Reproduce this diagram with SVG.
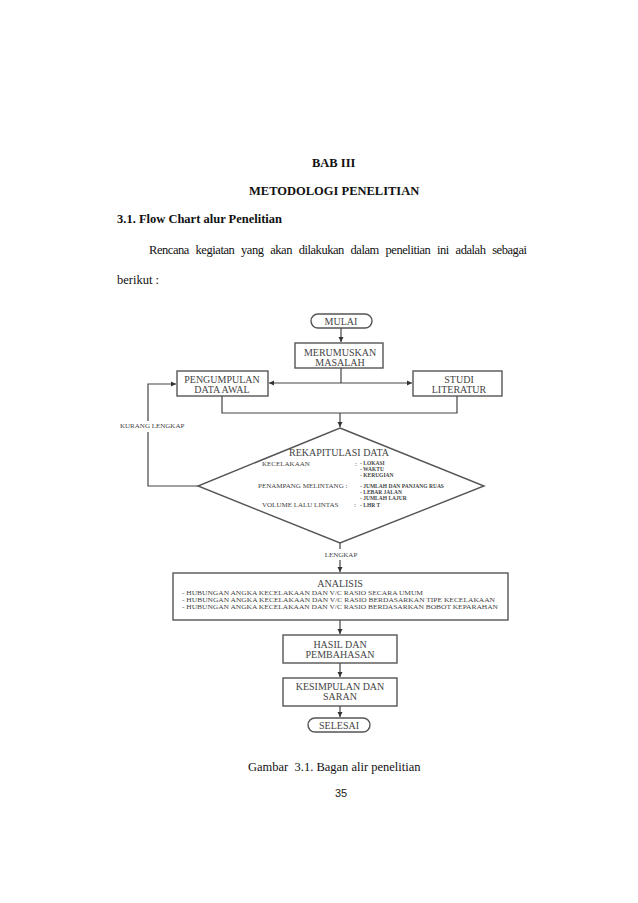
<svg xmlns="http://www.w3.org/2000/svg" width="638" height="903" viewBox="0 0 638 903">
<defs>
<style>
.pg{font-family:"Liberation Serif","Times New Roman",serif;fill:#111;font-size:12.5px}
.b{font-weight:bold}
.nd{fill:#fff;stroke:#555;stroke-width:1.4}
.t{font-family:"Liberation Serif","Times New Roman",serif;fill:#444;font-size:10px;text-anchor:middle}
.s{font-family:"Liberation Serif","Times New Roman",serif;fill:#444;font-size:7px}
.xs{font-family:"Liberation Serif","Times New Roman",serif;fill:#444;font-size:5.5px;font-weight:bold}
.c{fill:none;stroke:#444;stroke-width:1.2}
</style>
<marker id="ar" markerWidth="6" markerHeight="6" refX="5" refY="3" orient="auto" markerUnits="userSpaceOnUse">
<path d="M0,0.5 L5,3 L0,5.5 Z" fill="#333"/>
</marker>
</defs>
<rect width="638" height="903" fill="#fff"/>

<g id="page-text">
<text class="pg b" x="312" y="167">BAB III</text>
<text class="pg b" x="249" y="195">METODOLOGI PENELITIAN</text>
<text class="pg b" x="117" y="223">3.1. Flow Chart alur Penelitian</text>
<text class="pg" x="149" y="254" textLength="378" lengthAdjust="spacing" word-spacing="4">Rencana kegiatan yang akan dilakukan dalam penelitian ini adalah sebagai</text>
<text class="pg" x="117" y="284">berikut :</text>
<text class="pg" x="248" y="771" xml:space="preserve">Gambar  3.1. Bagan alir penelitian</text>
<text x="341" y="797" font-family="Liberation Sans, Arial, sans-serif" font-size="11" fill="#222" text-anchor="middle">35</text>
</g>

<g id="connectors">
<line class="c" x1="341" y1="328" x2="341" y2="342" marker-end="url(#ar)"/>
<line class="c" x1="341" y1="368" x2="341" y2="383"/>
<line class="c" x1="341" y1="383" x2="269" y2="383" marker-end="url(#ar)"/>
<line class="c" x1="341" y1="383" x2="412" y2="383" marker-end="url(#ar)"/>
<polyline class="c" points="222,396 222,413 457,413 457,396"/>
<line class="c" x1="340" y1="413" x2="340" y2="427" marker-end="url(#ar)"/>
<polyline class="c" points="198,486 148,486 148,432"/>
<polyline class="c" points="148,421 148,384 176,384" marker-end="url(#ar)"/>
<text class="s" x="120" y="428" font-size="7">KURANG LENGKAP</text>
<line class="c" x1="340" y1="543" x2="340" y2="549"/>
<text class="s" x="341" y="557" text-anchor="middle" font-size="6.5">LENGKAP</text>
<line class="c" x1="340" y1="560" x2="340" y2="572" marker-end="url(#ar)"/>
<line class="c" x1="340" y1="620" x2="340" y2="634" marker-end="url(#ar)"/>
<line class="c" x1="340" y1="663" x2="340" y2="677" marker-end="url(#ar)"/>
<line class="c" x1="340" y1="706" x2="340" y2="717" marker-end="url(#ar)"/>
</g>

<g id="mulai">
<rect class="nd" x="311" y="314" width="61" height="14" rx="7"/>
<text class="t" x="341" y="325">MULAI</text>
</g>
<g id="merumuskan">
<rect class="nd" x="295" y="343" width="88" height="25"/>
<text class="t" x="340" y="356">MERUMUSKAN</text>
<text class="t" x="340" y="366">MASALAH</text>
</g>
<g id="pengumpulan">
<rect class="nd" x="177" y="371" width="91" height="25"/>
<text class="t" x="222" y="383">PENGUMPULAN</text>
<text class="t" x="222" y="393">DATA AWAL</text>
</g>
<g id="studi">
<rect class="nd" x="413" y="371" width="89" height="25"/>
<text class="t" x="459" y="383">STUDI</text>
<text class="t" x="459" y="393">LITERATUR</text>
</g>
<g id="rekapitulasi">
<polygon class="nd" points="340,428 484,486 340,543 198,486"/>
<text class="t" x="339" y="456" font-size="9.5">REKAPITULASI DATA</text>
<text class="s" x="262" y="466">KECELAKAAN</text>
<text class="s" x="355" y="466">:</text>
<text class="xs" x="360" y="465">- LOKASI</text>
<text class="xs" x="360" y="471">- WAKTU</text>
<text class="xs" x="360" y="477">- KERUGIAN</text>
<text class="s" x="258" y="488">PENAMPANG MELINTANG :</text>
<text class="xs" x="360" y="488">- JUMLAH DAN PANJANG RUAS</text>
<text class="xs" x="360" y="494">- LEBAR JALAN</text>
<text class="xs" x="360" y="500">- JUMLAH LAJUR</text>
<text class="s" x="262" y="507">VOLUME LALU LINTAS</text>
<text class="s" x="354" y="507">:</text>
<text class="xs" x="360" y="507">- LHR T</text>
</g>
<g id="analisis">
<rect class="nd" x="173" y="573" width="335" height="47"/>
<text class="t" x="340" y="587">ANALISIS</text>
<text class="s" x="182" y="595" font-size="6.5" textLength="241" lengthAdjust="spacingAndGlyphs">- HUBUNGAN ANGKA KECELAKAAN DAN V/C RASIO SECARA UMUM</text>
<text class="s" x="182" y="602" font-size="6.5" textLength="313" lengthAdjust="spacingAndGlyphs">- HUBUNGAN ANGKA KECELAKAAN DAN V/C RASIO BERDASARKAN TIPE KECELAKAAN</text>
<text class="s" x="182" y="609" font-size="6.5" textLength="316" lengthAdjust="spacingAndGlyphs">- HUBUNGAN ANGKA KECELAKAAN DAN V/C RASIO BERDASARKAN BOBOT KEPARAHAN</text>
</g>
<g id="hasil">
<rect class="nd" x="283" y="635" width="114" height="28"/>
<text class="t" x="340" y="648">HASIL DAN</text>
<text class="t" x="340" y="658">PEMBAHASAN</text>
</g>
<g id="kesimpulan">
<rect class="nd" x="283" y="678" width="114" height="28"/>
<text class="t" x="340" y="690">KESIMPULAN DAN</text>
<text class="t" x="340" y="700">SARAN</text>
</g>
<g id="selesai">
<rect class="nd" x="308" y="718" width="62" height="14" rx="7"/>
<text class="t" x="339" y="729">SELESAI</text>
</g>
</svg>
